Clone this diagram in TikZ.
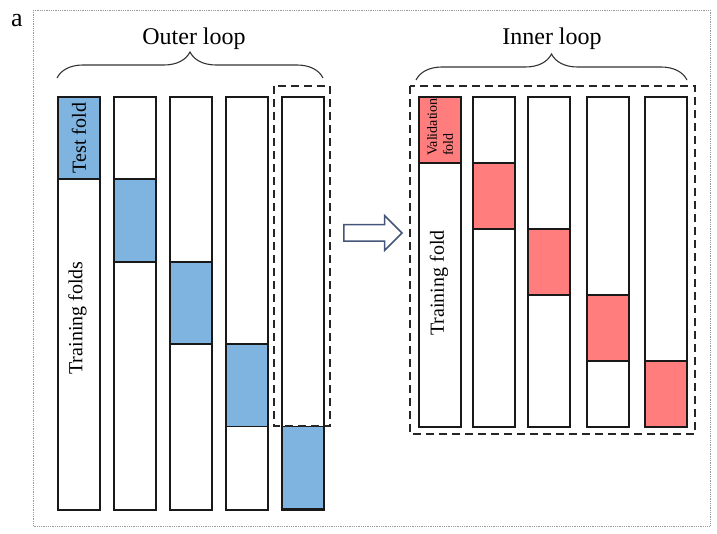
\documentclass[tikz,border=0pt]{standalone}
\usepackage{fontspec}
\setmainfont{Liberation Serif}
\usepackage{tikz}
\usetikzlibrary{decorations.pathreplacing}
\usetikzlibrary{shapes.arrows}
\definecolor{testblue}{RGB}{126,180,223}
\definecolor{validred}{RGB}{255,125,125}
\definecolor{arrowblue}{RGB}{68,86,122}
\tikzset{fold/.style={draw=black!90,line width=1.8pt,inner sep=0pt,
                      minimum width=42pt,anchor=north west}}
\tikzset{testfold/.style={fold,fill=testblue}}
\tikzset{validfold/.style={fold,fill=validred}}
\def\outerstep{82.4}
\def\innerstep{66}

\begin{document}
\begin{tikzpicture}[x=1pt,y=-1pt]
    \tikzstyle{loopbox}=[draw=black!85,line width=2.2pt,dash pattern=on 8pt off 5pt]
    \tikzstyle{bracket}=[decorate,decoration={brace,amplitude=26pt},line width=1.1pt,draw=black!80]
    \tikzstyle{looptext}=[font=\fontsize{24}{28}\selectfont,anchor=base]
    \tikzstyle{foldtext}=[rotate=90,font=\fontsize{20}{24}\selectfont,inner sep=0pt]

    \useasboundingbox (0,0) rectangle (717,534);
    \draw[gray!80,line width=0.9pt,dash pattern=on 1pt off 0.8pt] (33,10) rectangle (710,526);
    \node[font=\fontsize{26}{30}\selectfont,anchor=base] (panel) at (17,27) {a};

    % Draw the outer loop folds
    \foreach \i / \x in {0/57,1/113,2/169,3/225,4/281} {
        \node[fold,minimum height=413pt] (outer-\i) at (\x,96) {};
        \node[testfold,minimum height=\outerstep pt] (test-\i) at (\x,96+\outerstep*\i) {};
    }

    % Draw the inner loop folds
    \foreach \i / \x in {0/418,1/472,2/527,3/586,4/644} {
        \node[fold,minimum height=330pt] (inner-\i) at (\x,96) {};
        \node[validfold,minimum height=\innerstep pt] (valid-\i) at (\x,96+\innerstep*\i) {};
    }

    % Dashed boxes round the selected split
    \draw[loopbox] (274,86) rectangle (330,426);
    \draw[loopbox] (410,86) rectangle (695,434);

    % Annotate the folds
    \node[foldtext] (testlbl) at (test-0) {Test fold};
    \node[foldtext] (trainlbl) at (77.5,318) {Training folds};
    \node[foldtext] (trainlbl2) at (439,283) {Training fold};
    \node[rotate=90,font=\fontsize{14}{16}\selectfont,align=left,inner sep=0pt]
        (validlbl) at (440,127) {Validation\\fold};

    % Braces and loop names
    \draw[bracket] (57,78) -- (323,78);
    \draw[bracket] (416,80) -- (687,80);
    \node[looptext] (outerlbl) at (194,45) {Outer loop};
    \node[looptext] (innerlbl) at (552,45) {Inner loop};

    % Arrow from outer to inner loop
    \node[single arrow,draw=arrowblue,line width=1.5pt,fill=white,
          inner xsep=0pt,inner ysep=7.5pt,minimum height=58pt,
          single arrow head extend=9pt,single arrow tip angle=90,
          anchor=tip] (step) at (403,233) {};
\end{tikzpicture}
\end{document}
